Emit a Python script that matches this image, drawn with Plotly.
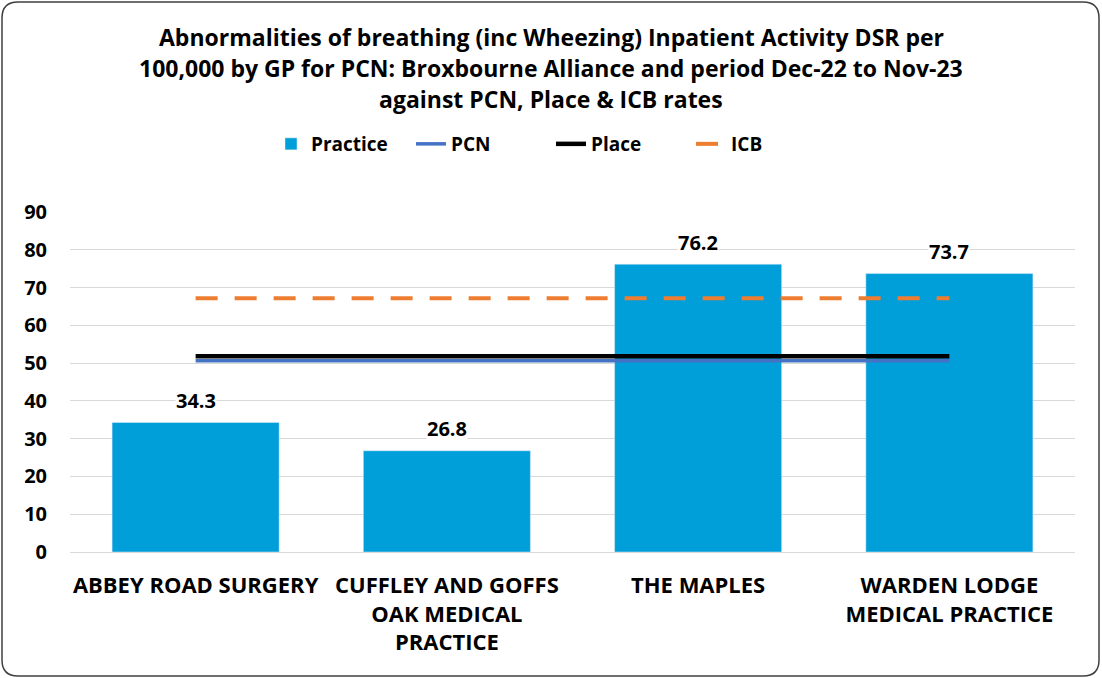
import plotly.graph_objects as go

categories = ["ABBEY ROAD SURGERY", "CUFFLEY AND GOFFS<br>OAK MEDICAL<br>PRACTICE",
              "THE MAPLES", "WARDEN LODGE<br>MEDICAL PRACTICE"]
practice = [34.3, 26.8, 76.2, 73.7]
pcn = [50.6, 50.6, 50.6, 50.6]
place = [51.8, 51.8, 51.8, 51.8]
icb = [67.2, 67.2, 67.2, 67.2]
title_lines = ["Abnormalities of breathing (inc Wheezing) Inpatient Activity DSR per",
               "100,000 by GP for PCN: Broxbourne Alliance and period Dec-22 to Nov-23",
               "against PCN, Place & ICB rates"]
yticks = list(range(0, 91, 10))

FONT = "Open Sans"
W, H = 1102, 678
ml, mr, mt, mb = 70, 27, 212, 126
pw, ph = W - ml - mr, H - mt - mb

def px(x):
    return (x - ml) / pw

def py(y):
    return (H - mb - y) / ph

fig = go.Figure()
fig.add_trace(go.Bar(x=categories, y=practice, name="<b>Practice</b>", marker_color="#009FDA",
                     width=0.665))
fig.add_trace(go.Scatter(x=categories, y=pcn, name="<b>PCN</b>", mode="lines",
                         line=dict(color="#4472C4", width=3.5)))
fig.add_trace(go.Scatter(x=categories, y=place, name="<b>Place</b>", mode="lines",
                         line=dict(color="#000000", width=4.5)))
fig.add_trace(go.Scatter(x=categories, y=icb, name="<b>ICB</b>", mode="lines",
                         line=dict(color="#ED7D31", width=4, dash="22px,17px")))

# data labels with white background
for c, v in zip(categories, practice):
    fig.add_annotation(x=c, y=v, text=f"<b>{v:.1f}</b>", showarrow=False, yanchor="middle",
                       yshift=22, bgcolor="white", borderpad=0,
                       font=dict(family=FONT, size=20, color="#000000"))

# title lines
for i, t in enumerate(title_lines):
    fig.add_annotation(x=px(551), xref="paper", y=py(37 + 31 * i), yref="paper",
                       text=f"<b>{t}</b>", showarrow=False, xanchor="center", yanchor="middle",
                       font=dict(family=FONT, size=23, color="#000000"))

# rounded border
x0, x1, y0, y1, r = 2, 1099, 2, 676, 16
path = (f"M {px(x0 + r)},{py(y0)} L {px(x1 - r)},{py(y0)} Q {px(x1)},{py(y0)} {px(x1)},{py(y0 + r)} "
        f"L {px(x1)},{py(y1 - r)} Q {px(x1)},{py(y1)} {px(x1 - r)},{py(y1)} "
        f"L {px(x0 + r)},{py(y1)} Q {px(x0)},{py(y1)} {px(x0)},{py(y1 - r)} "
        f"L {px(x0)},{py(y0 + r)} Q {px(x0)},{py(y0)} {px(x0 + r)},{py(y0)} Z")
fig.add_shape(type="path", path=path, xref="paper", yref="paper",
              line=dict(color="#404040", width=1.5), layer="above")

fig.update_layout(
    width=W, height=H,
    margin=dict(l=ml, r=mr, t=mt, b=mb),
    paper_bgcolor="white", plot_bgcolor="white",
    font=dict(family=FONT, color="#000000"),
    showlegend=True,
    legend=dict(orientation="h", x=0.5, xanchor="center", xref="container",
                y=1 - 144 / H, yref="container", yanchor="middle",
                font=dict(family=FONT, size=19, color="#000000"),
                entrywidth=95, traceorder="normal"),
    bargap=0.335,
    xaxis=dict(showgrid=False, showline=False, ticks="", tickangle=0,
               tickvals=categories, ticktext=[f"<b>{c}</b>" for c in categories],
               ticklabelstandoff=18,
               tickfont=dict(family=FONT, size=22, color="#000000")),
    yaxis=dict(range=[0, 90], showgrid=True, gridcolor="#D9D9D9", gridwidth=1.3,
               zeroline=True, zerolinecolor="#D9D9D9", zerolinewidth=1.3,
               showline=False, ticks="", ticklabelstandoff=22,
               tickvals=yticks, ticktext=[f"<b>{v}</b>" for v in yticks],
               tickfont=dict(family=FONT, size=20, color="#000000")),
)

fig.write_html("out.html", config={"displayModeBar": False},
               post_script="document.body.style.margin='0';document.body.style.overflow='hidden';")
